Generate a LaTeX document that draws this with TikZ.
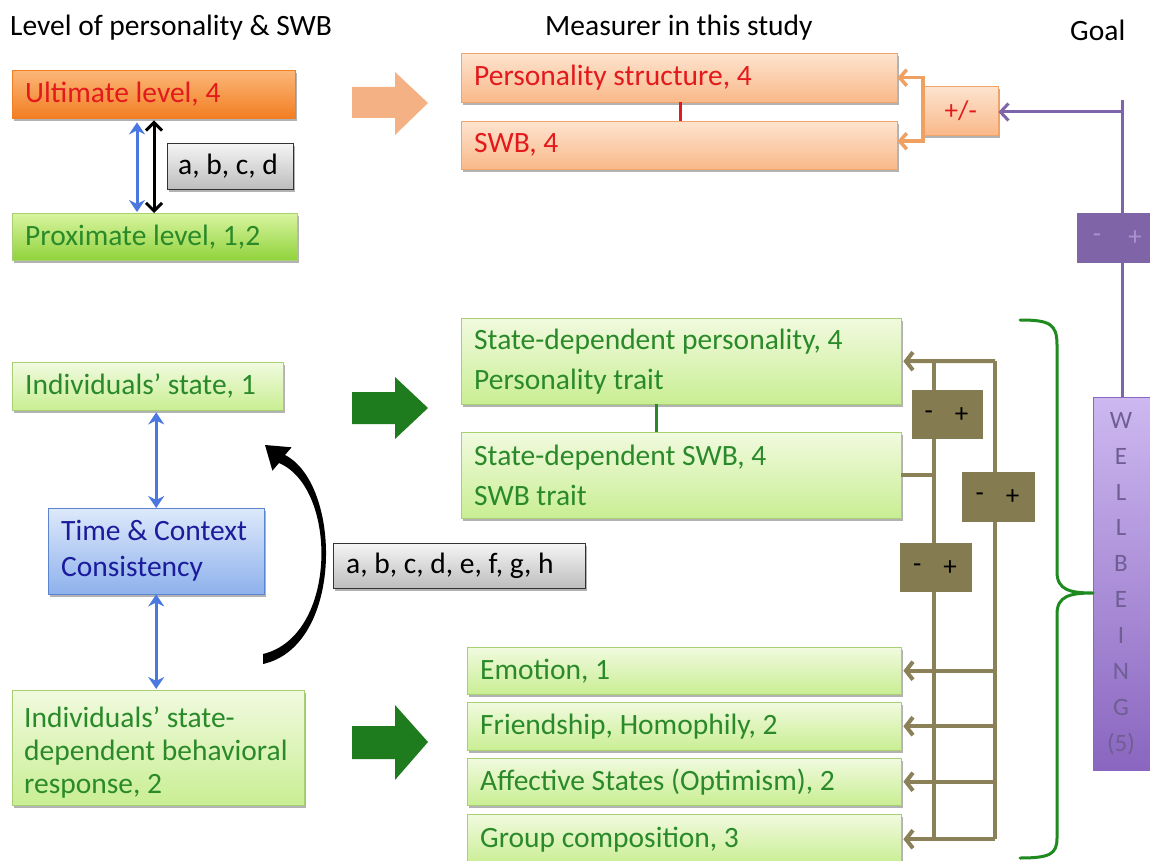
\documentclass[tikz,border=0pt]{standalone}
\usepackage{fontspec}
\setmainfont{Carlito}
\usetikzlibrary{arrows.meta,shadows,calc}

\definecolor{peachT}{HTML}{FDE4CF}
\definecolor{peachB}{HTML}{F9B889}
\definecolor{peachD}{HTML}{F2A56A}
\definecolor{ultT}{HTML}{FBB779}
\definecolor{ultB}{HTML}{F27E22}
\definecolor{redtxt}{HTML}{E3191C}
\definecolor{grT}{HTML}{F1FADF}
\definecolor{grB}{HTML}{C9EE93}
\definecolor{grD}{HTML}{A8CF72}
\definecolor{proxT}{HTML}{D9F5A0}
\definecolor{proxB}{HTML}{90D23C}
\definecolor{grtxt}{HTML}{2A8A2A}
\definecolor{bluT}{HTML}{DDE9FB}
\definecolor{bluB}{HTML}{8EB1EC}
\definecolor{bluD}{HTML}{5B86CF}
\definecolor{blutxt}{HTML}{1B1B9C}
\definecolor{bluarr}{HTML}{4A78E0}
\definecolor{gryT}{HTML}{F5F5F5}
\definecolor{gryB}{HTML}{BDBDBD}
\definecolor{purp}{HTML}{7E64A8}
\definecolor{purpT}{HTML}{CDB8F0}
\definecolor{purpB}{HTML}{8A66C0}
\definecolor{purptxt}{HTML}{6F5E94}
\definecolor{purpbox}{HTML}{8064A8}
\definecolor{purpsign}{HTML}{A993CF}
\definecolor{olive}{HTML}{8A8158}
\definecolor{olivebox}{HTML}{857B50}
\definecolor{orngarr}{HTML}{F4B183}
\definecolor{orngln}{HTML}{F0A060}
\definecolor{dkgreen}{HTML}{1E7B1E}
\definecolor{brace}{HTML}{1F8A1F}

\newcommand\fs{\fontsize{29.5}{35}\selectfont}

\tikzset{
  bx/.style={anchor=north west, inner xsep=13pt, inner ysep=0pt, align=flush left,
    font=\fs, drop shadow={shadow xshift=2pt, shadow yshift=-2.5pt, opacity=0.3, fill=black}},
  peach/.style={bx, draw=peachD, top color=peachT, bottom color=peachB, text=redtxt},
  ultimate/.style={bx, draw=ultB, top color=ultT, bottom color=ultB, text=redtxt},
  lgreen/.style={bx, draw=grD, top color=grT, bottom color=grB, text=grtxt},
  prox/.style={bx, draw=grD, top color=proxT, bottom color=proxB, text=grtxt},
  bluebox/.style={bx, draw=bluD, top color=bluT, bottom color=bluB, text=blutxt},
  graybox/.style={bx, draw=black!80, top color=gryT, bottom color=gryB, text=black},
  pmbox/.style={anchor=north west, inner sep=0pt, fill=olivebox},
  sign/.style={font=\fontsize{27}{30}\selectfont, inner sep=0pt},
  bluearrow/.style={draw=bluarr, line width=3pt, {Stealth[length=12pt,width=16pt]}-{Stealth[length=12pt,width=16pt]}},
  blackarrow/.style={draw=black, line width=3pt, {Straight Barb[length=8pt,width=16pt]}-{Straight Barb[length=8pt,width=16pt]}},
  olarr/.style={draw=olive, line width=4pt, -{Straight Barb[length=7pt,width=18pt]}},
  olline/.style={draw=olive, line width=4pt},
  orarr/.style={draw=orngln, line width=3.5pt, -{Straight Barb[length=7pt,width=16pt]}},
  purarr/.style={draw=purp, line width=3pt, -{Straight Barb[length=8pt,width=17pt]}},
}

\begin{document}
\begin{tikzpicture}[x=1pt,y=-1pt]
\useasboundingbox (0,0) rectangle (1150,861);
\fill[white] (0,0) rectangle (1150,861);

% column headings
\node[anchor=west, font=\fs, inner sep=0pt] (h1) at (10,28) {Level of personality \& SWB};
\node[anchor=west, font=\fs, inner sep=0pt] (h2) at (545,28) {Measurer in this study};
\node[anchor=west, font=\fs, inner sep=0pt] (h3) at (1070,30) {Goal};

% levels
\node[ultimate, minimum height=48pt, text width=257pt] (ult) at (12,70) {Ultimate level, 4};
\node[prox, minimum height=47pt, text width=259pt] (prox) at (12,213) {Proximate level, 1,2};
\node[graybox, inner xsep=11pt, minimum height=46pt, text width=104pt] (abcd) at (167,143) {a, b, c, d};
\coordinate (ua) at (137,0);
\coordinate (ub) at (154,0);
\draw[bluearrow] ($(ult.south -| ua)+(0,4)$) -- ($(prox.north -| ua)+(0,-1)$);
\draw[blackarrow] ($(ult.south -| ub)+(0,2)$) -- (prox.north -| ub);

% orange block arrow
\fill[orngarr] (352,87) -- (395,87) -- (395,72) -- (428,103) -- (395,135) -- (395,118) -- (352,118) -- cycle;

% study measures, top
\node[peach, minimum height=49pt, text width=410pt] (ps) at (461,53) {Personality structure, 4};
\node[peach, minimum height=48pt, text width=410pt] (sw) at (461,121) {SWB, 4};
\coordinate (rl) at (680,0);
\draw[redtxt, line width=3pt] (ps.south -| rl) -- (sw.north -| rl);

\node[peach, inner xsep=0pt, minimum width=75pt, minimum height=49pt, text width=75pt, align=center,
      font=\fontsize{27}{30}\selectfont] (pm) at (923,86) {+/-};
\draw[orarr] (pm.west) -- (pm.west |- ps.east) -- (ps.east);
\draw[orarr] (pm.west) -- ($(pm.west |- sw.east)+(0,-4)$) -- ($(sw.east)+(0,-4)$);

% goal
\node[pmbox, minimum width=74pt, minimum height=50pt, fill=purpbox] (ppm) at (1077,213) {};
\node[sign, text=purpsign] (ppmm) at (1097,238) {-};
\node[sign, text=purpsign] (ppmp) at (1135,238) {+};
\node[anchor=north west, minimum width=60pt, minimum height=373pt, inner sep=0pt,
      draw=purpB, top color=purpT, bottom color=purpB] (wb) at (1093,397) {};
\node[anchor=north, align=center, text=purptxt, inner sep=0pt,
      font=\fontsize{25}{35.9}\selectfont] (wbt) at (1121,412)
  {W\\E\\L\\L\\B\\E\\I\\N\\G\\(5)};
\coordinate (pv) at (1122,100);
\draw[purp, line width=3pt] (pv) -- (pv |- wb.north);
\draw[purarr] (pv |- 0,112) -- (pm.east |- 0,112);

% state level, left column
\node[lgreen, minimum height=48pt, text width=245pt] (ind) at (12,362) {Individuals’ state, 1};
\node[bluebox, minimum height=86pt, text width=190pt, font=\fontsize{29.5}{36}\selectfont] (tc) at (48,508)
  {Time \& Context\\Consistency};
\node[lgreen, inner xsep=12pt, minimum height=115pt, text width=268pt, font=\fontsize{29.5}{33}\selectfont] (resp) at (12,690)
  {\rule{0pt}{30pt}Individuals’ state-\\dependent behavioral\\response, 2};
\draw[bluearrow] ($(tc.north |- ind.south)+(0,2)$) -- (tc.north);
\draw[bluearrow] (tc.south) -- ($(tc.south |- resp.north)+(0,-1)$);

% curved feedback arrow, thick at both ends and thin in the middle
\coordinate (cb) at (263,664);
\coordinate (ct) at (265,445);
\fill (cb) .. controls (344,646) and (342,484) .. (285,455)
  -- (291.6,447.3) -- (ct) -- (272.4,470.7) -- (279,463)
  .. controls (338,488) and (338,636) .. (263,654) -- cycle;

\node[graybox, minimum height=45pt, text width=226pt] (abch) at (333,543) {a, b, c, d, e, f, g, h};

% green block arrows
\fill[dkgreen] (352,392) -- (395,392) -- (395,377) -- (428,408) -- (395,439) -- (395,424) -- (352,424) -- cycle;
\fill[dkgreen] (352,726) -- (395,726) -- (395,705) -- (428,742) -- (395,780) -- (395,759) -- (352,759) -- cycle;

% state-dependent measures
\node[lgreen, minimum height=86pt, text width=414pt, font=\fontsize{29.5}{40}\selectfont] (sdp) at (461,318)
  {State-dependent personality, 4\\Personality trait};
\node[lgreen, minimum height=86pt, text width=414pt, font=\fontsize{29.5}{40}\selectfont] (sds) at (461,432)
  {State-dependent SWB, 4\\SWB trait};
\coordinate (gl) at (656,0);
\draw[grtxt, line width=3pt] (sdp.south -| gl) -- (sds.north -| gl);

\node[lgreen, minimum height=47pt, text width=408pt] (emo) at (467,647) {Emotion, 1};
\node[lgreen, minimum height=48pt, text width=408pt] (fri) at (467,702) {Friendship, Homophily, 2};
\node[lgreen, minimum height=47pt, text width=408pt] (aff) at (467,758) {Affective States (Optimism), 2};
\node[lgreen, minimum height=50pt, text width=408pt] (grp) at (467,814) {Group composition, 3};

% feedback lattice
\coordinate (la) at (934,361);
\coordinate (lb) at (995,361);
\draw[olline] (la) -- (la |- grp.east);
\draw[olline] (lb) -- (lb |- grp.east);
\draw[olarr] (lb) -- ($(sdp.east)+(2,0)$);
\draw[olline] (sds.east) -- (la |- sds.east);
\foreach \n in {emo,fri,aff,grp}
  \draw[olarr] (lb |- \n.east) -- ($(\n.east)+(2,0)$);

\node[pmbox, minimum width=71pt, minimum height=49pt] (pm1) at (912,390) {};
\node[pmbox, minimum width=73pt, minimum height=50pt] (pm2) at (962,472) {};
\node[pmbox, minimum width=72pt, minimum height=49pt] (pm3) at (900,543) {};
\foreach \b in {pm1,pm2,pm3} {
  \node[sign] at ($(\b.center)+(-19,0)$) {-};
  \node[sign] at ($(\b.center)+(14,0)$) {+};
}

% wellbeing brace
\draw[brace, line width=3pt, line cap=round]
  (1020,320) .. controls (1050,320) and (1057,324) .. (1057,345)
  -- (1057,572) .. controls (1057,590) and (1070,593) .. (1093,593)
  (1093,593) .. controls (1070,593) and (1057,596) .. (1057,614)
  -- (1057,838) .. controls (1057,854) and (1050,858) .. (1020,858);
\end{tikzpicture}
\end{document}
